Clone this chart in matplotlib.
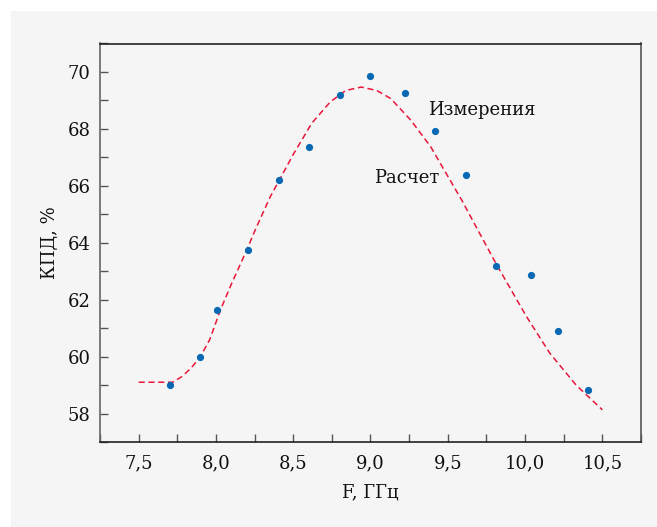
import numpy as np
import matplotlib
matplotlib.use("Agg")
import matplotlib.pyplot as plt
from matplotlib.patches import Rectangle
from matplotlib.ticker import MultipleLocator, FuncFormatter

# measured points
meas_f = [7.70, 7.895, 8.01, 8.205, 8.405, 8.605, 8.80, 9.00, 9.22, 9.42,
          9.62, 9.815, 10.04, 10.21, 10.41]
meas_eff = [59.0, 60.0, 61.65, 63.75, 66.19, 67.38, 69.19, 69.86, 69.26, 67.92,
            66.39, 63.19, 62.87, 60.89, 58.84]

# calculated curve
calc_f = [7.50, 7.72, 7.78, 7.84, 7.90, 7.96, 8.03, 8.10, 8.20, 8.25, 8.35,
          8.42, 8.50, 8.62, 8.74, 8.84, 8.94, 9.04, 9.13, 9.26, 9.39, 9.49,
          9.59, 9.70, 9.82, 10.01, 10.16, 10.33, 10.50]
calc_eff = [59.10, 59.10, 59.30, 59.60, 60.00, 60.60, 61.65, 62.55, 63.75,
            64.40, 65.60, 66.30, 67.10, 68.20, 68.95, 69.35, 69.47, 69.35,
            69.07, 68.31, 67.37, 66.43, 65.50, 64.39, 63.19, 61.40, 60.12,
            59.00, 58.13]

BG = '#f5f5f5'
plt.rcParams['font.family'] = ['DejaVu Serif']

fig = plt.figure(figsize=(6.57, 5.27), dpi=100)
fig.patch.set_facecolor('white')
bg = Rectangle((11 / 657, 0), 1, (527 - 11) / 527, transform=fig.transFigure,
               facecolor=BG, edgecolor='none', zorder=-10)
fig.add_artist(bg)

ax = fig.add_axes([100 / 657, (527 - 442) / 527, 541 / 657, 398.5 / 527])
ax.set_zorder(1)
ax.set_facecolor(BG)

ax.plot(calc_f, calc_eff, color='#e8173a', linestyle=(0, (4, 2.4)),
        linewidth=1.1, zorder=2)
ax.plot(meas_f, meas_eff, 'o', color='#0868b4', markersize=5.2,
        markeredgewidth=0, zorder=3)

ax.set_xlim(7.25, 10.75)
ax.set_ylim(57, 71)
ax.xaxis.set_major_locator(MultipleLocator(0.5))
ax.xaxis.set_minor_locator(MultipleLocator(0.25))
ax.yaxis.set_major_locator(MultipleLocator(2))
ax.yaxis.set_minor_locator(MultipleLocator(1))
ax.xaxis.set_major_formatter(FuncFormatter(lambda v, p: f"{v:.1f}".replace('.', ',')))
ax.yaxis.set_major_formatter(FuncFormatter(lambda v, p: f"{v:.0f}"))

ax.tick_params(which='both', direction='in', length=6, width=1, color='#555555',
               labelsize=13, labelcolor='#111111')
ax.tick_params(axis='x', which='both', pad=9)
ax.tick_params(axis='y', which='both', pad=7)

for s in ax.spines.values():
    s.set_color('#222222')
    s.set_linewidth(1.2)
ax.spines['left'].set_color('#666666')
ax.spines['right'].set_color('#555555')

ax.set_xlabel('F, ГГц', fontsize=13, labelpad=8, color='#111111')
ax.set_ylabel('КПД, %', fontsize=13, labelpad=6, color='#111111')

ax.text(9.37, 68.66, 'Измерения', fontsize=13, va='center', ha='left', color='#111111')
ax.text(9.025, 66.27, 'Расчет', fontsize=13, va='center', ha='left', color='#111111')

fig.savefig('out.png', dpi=100, facecolor=fig.get_facecolor())
